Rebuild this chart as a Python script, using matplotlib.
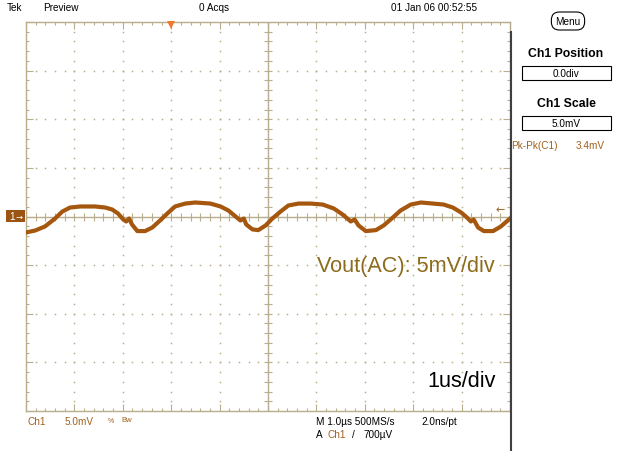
import numpy as np
import matplotlib.pyplot as plt
from matplotlib.lines import Line2D
from matplotlib.patches import Rectangle

plt.rcParams['font.family'] = ['Liberation Sans', 'DejaVu Sans']

# --- Ch1 trace: time in us, voltage in mV ---
t_us = [-5.00, -4.81, -4.61, -4.40, -4.25, -4.09, -3.88, -3.57, -3.36, -3.22,
        -3.10, -2.99, -2.93, -2.87, -2.81, -2.70, -2.54, -2.39, -2.23, -2.08,
        -1.92, -1.71, -1.50, -1.19, -0.98, -0.82, -0.67, -0.57, -0.50, -0.45,
        -0.32, -0.20, -0.05, 0.09, 0.26, 0.42, 0.63, 0.88, 1.13, 1.36,
        1.54, 1.71, 1.79, 1.87, 2.02, 2.23, 2.39, 2.58, 2.74, 2.95,
        3.16, 3.41, 3.63, 3.82, 3.99, 4.11, 4.19, 4.25, 4.34, 4.46,
        4.65, 4.81, 5.00]
v_mv = [-1.64, -1.44, -1.03, -0.21, 0.51, 0.92, 1.03, 1.03, 0.92, 0.72,
        0.31, -0.31, -0.51, -0.21, -0.82, -1.50, -1.50, -1.13, -0.41, 0.31,
        1.03, 1.33, 1.44, 1.33, 1.03, 0.62, 0.00, -0.41, -0.21, -0.82,
        -1.33, -1.40, -0.92, -0.21, 0.51, 1.13, 1.33, 1.33, 1.23, 0.82,
        0.21, -0.51, -0.31, -0.92, -1.50, -1.40, -0.92, -0.10, 0.62, 1.23,
        1.44, 1.33, 1.23, 0.92, 0.41, -0.10, -0.51, -0.31, -1.13, -1.50,
        -1.50, -1.03, -0.21]

us_per_div = 1.0
mv_per_div = 5.0
n_xdiv, n_ydiv = 10, 8
trig_pos_us = -2.0

W, H = 631, 452
grat = '#b8ad8c'
trace_col = '#a5570f'
brown = '#a0601c'


def px(x, y):
    return x / W, 1 - y / H


fig = plt.figure(figsize=(W / 100, H / 100), dpi=100)
fig.patch.set_facecolor('white')
ax = fig.add_axes([26 / W, (H - 412) / H, 484 / W, 389 / H])

xmax = n_xdiv / 2 * us_per_div
ymax = n_ydiv / 2 * mv_per_div
ax.set_xlim(-xmax, xmax)
ax.set_ylim(-ymax, ymax)

# graticule border + ticks
for s in ax.spines.values():
    s.set_color(grat)
    s.set_linewidth(1.0)
ax.set_xticks(np.arange(-xmax, xmax + 0.01, us_per_div))
ax.set_yticks(np.arange(-ymax, ymax + 0.01, mv_per_div))
ax.set_xticks(np.arange(-xmax, xmax + 0.01, us_per_div / 5), minor=True)
ax.set_yticks(np.arange(-ymax, ymax + 0.01, mv_per_div / 5), minor=True)
ax.tick_params(which='both', direction='in', top=True, right=True,
               labelbottom=False, labelleft=False, color=grat, width=0.8)
ax.tick_params(which='major', length=5)
ax.tick_params(which='minor', length=2.5)

# dotted division lines
xs = np.arange(-xmax, xmax + 0.01, us_per_div / 5)
ys = np.arange(-ymax, ymax + 0.01, mv_per_div / 5)
for k in np.arange(-xmax + us_per_div, xmax, us_per_div):
    if abs(k) > 1e-9:
        ax.plot(np.full_like(ys, k), ys, ls='none', marker='s', ms=1.1,
                mew=0, color=grat)
for k in np.arange(-ymax + mv_per_div, ymax, mv_per_div):
    if abs(k) > 1e-9:
        ax.plot(xs, np.full_like(xs, k), ls='none', marker='s', ms=1.1,
                mew=0, color=grat)

# center cross with ticks
ax.axhline(0, color=grat, lw=1.0)
ax.axvline(0, color=grat, lw=1.0)
ax.plot(xs, np.zeros_like(xs), ls='none', marker='|', ms=5.5, mew=0.8, color=grat)
ax.plot(np.zeros_like(ys), ys, ls='none', marker='_', ms=5.5, mew=0.8, color=grat)

# trace
ax.plot(t_us, v_mv, color=trace_col, lw=3.0, solid_joinstyle='round', zorder=5)

# trigger position marker
ax.plot([trig_pos_us], [ymax - 0.3], marker='v', ms=6, color='#f07a2a',
        mew=0, clip_on=False, zorder=6)

# annotations inside the screen
ax.text(0.601, 0.373, 'Vout(AC): 5mV/div', transform=ax.transAxes,
        fontsize=15.6, color='#8c6c1c', ha='left', va='center')
ax.text(0.97, 0.079, '1us/div', transform=ax.transAxes,
        fontsize=15.6, color='black', ha='right', va='center')

# menu panel separator
fig.add_artist(Line2D([511 / W, 511 / W], [0, 1 - 33 / H], color='#404040', lw=1.5))

small = 7.2
fig.text(*px(7, 8), 'Tek', fontsize=small, va='center')
fig.text(*px(43, 8), 'Preview', fontsize=small, va='center')
fig.text(*px(199, 8), '0 Acqs', fontsize=small, va='center')
fig.text(*px(391, 8), '01 Jan 06 00:52:55', fontsize=small, va='center')

fig.text(*px(568, 22), 'Menu', fontsize=small, ha='center', va='center',
         bbox=dict(boxstyle='round,pad=0.4,rounding_size=0.8', fc='white',
                   ec='black', lw=0.8))

fig.text(*px(566, 54), 'Ch1 Position', fontsize=8.8, fontweight='bold',
         ha='center', va='center')
fig.add_artist(Rectangle(px(522, 81), 89 / W, 14 / H, transform=fig.transFigure,
                         fc='white', ec='black', lw=0.8))
fig.text(*px(566, 74), '0.0div', fontsize=small, ha='center', va='center')

fig.text(*px(566, 104), 'Ch1 Scale', fontsize=8.8, fontweight='bold',
         ha='center', va='center')
fig.add_artist(Rectangle(px(522, 131), 89 / W, 14 / H, transform=fig.transFigure,
                         fc='white', ec='black', lw=0.8))
fig.text(*px(566, 124), '5.0mV', fontsize=small, ha='center', va='center')

fig.text(*px(511, 146), 'Pk-Pk(C1)', fontsize=small, color=brown, va='center')
fig.text(*px(576, 146), '3.4mV', fontsize=small, color=brown, va='center')

# channel ground marker on the left, arrow on the right
fig.add_artist(Rectangle(px(6, 223), 19 / W, 12 / H, transform=fig.transFigure,
                         fc='#9a5512', ec='none'))
fig.text(*px(9, 217), '1', fontsize=small, color='white', va='center')
fig.text(*px(16, 217), '→', fontsize=6, color='white', va='center',
         family='DejaVu Sans')
fig.text(*px(496, 210), '←', fontsize=8, color=brown, va='center',
         family='DejaVu Sans')

# readouts under the screen
fig.text(*px(27, 422), 'Ch1', fontsize=small, color=brown, va='center')
fig.text(*px(65, 422), '5.0mV', fontsize=small, color=brown, va='center')
fig.text(*px(108, 422), '%', fontsize=5, color=brown, va='center')
fig.text(*px(121, 421), 'Bw', fontsize=5.5, color=brown, va='center')
fig.text(*px(316, 422), 'M 1.0µs 500MS/s', fontsize=small, va='center')
fig.text(*px(421, 422), '2.0ns/pt', fontsize=small, va='center')
fig.text(*px(316, 435), 'A', fontsize=small, va='center')
fig.text(*px(328, 435), 'Ch1', fontsize=small, color=brown, va='center')
fig.text(*px(352, 435), '/', fontsize=small, va='center')
fig.text(*px(364, 435), '700µV', fontsize=small, va='center')

fig.savefig('out.png', dpi=100)
